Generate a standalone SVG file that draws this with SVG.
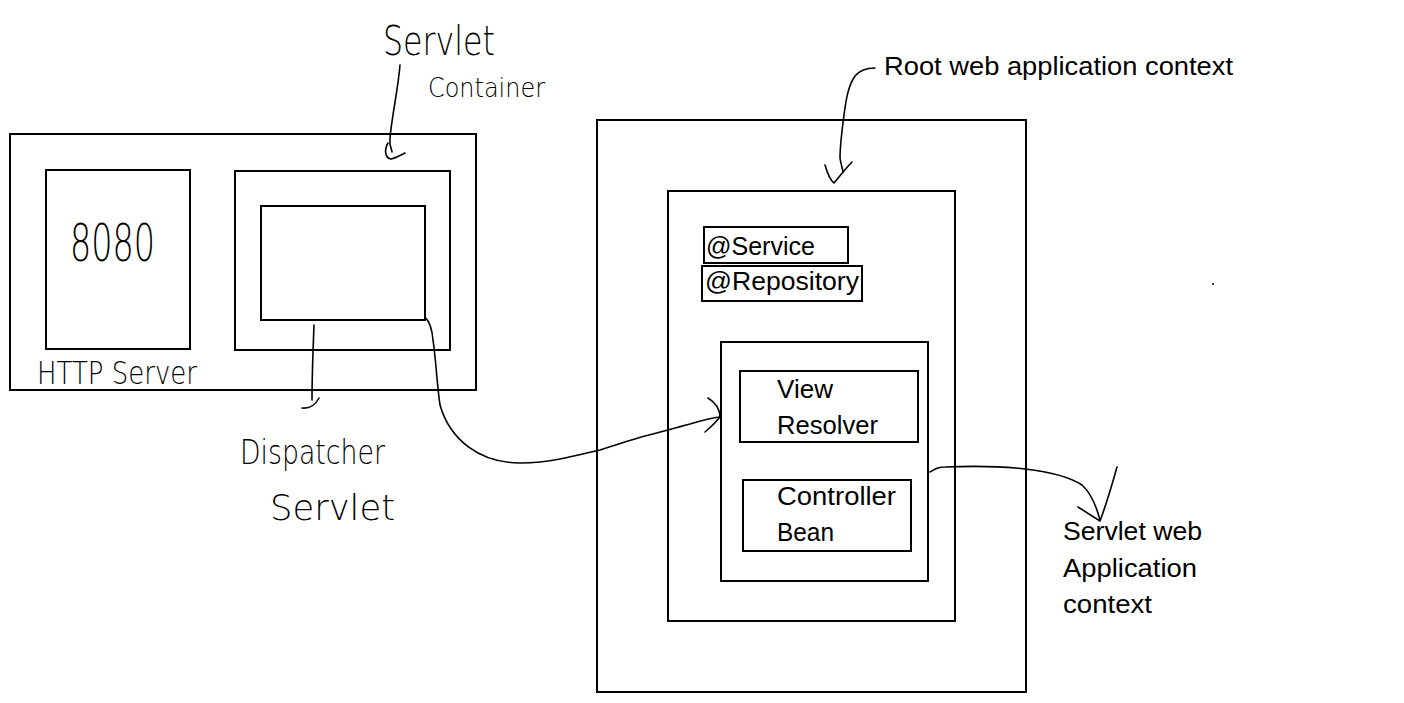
<svg xmlns="http://www.w3.org/2000/svg" width="1404" height="703" viewBox="0 0 1404 703">
<style>
.box{fill:none;stroke:#000;stroke-width:2}
.pen{fill:none;stroke:#000;stroke-width:1.6;stroke-linecap:round;stroke-linejoin:round}
.hand{font-family:"DejaVu Sans","Liberation Sans",sans-serif;font-weight:200;fill:#000}
.lbl{font-family:"Liberation Sans",Arial,sans-serif;font-size:25px;fill:#000}
</style>
<rect width="1404" height="703" fill="#fff"/>
<g id="http-server">
<rect class="box" x="10" y="134" width="466" height="256"/>
<text class="hand" x="37" y="384" font-size="32" textLength="160" lengthAdjust="spacingAndGlyphs">HTTP Server</text>
</g>
<g id="port-8080">
<rect class="box" x="46" y="170" width="144" height="179"/>
<text class="hand" x="70" y="261" font-size="52" textLength="85" lengthAdjust="spacingAndGlyphs">8080</text>
</g>
<g id="servlet-container">
<rect class="box" x="235" y="171" width="215" height="179"/>
<text class="hand" x="383" y="55" font-size="40" textLength="112" lengthAdjust="spacingAndGlyphs">Servlet</text>
<text class="hand" x="428" y="97" font-size="26" textLength="117" lengthAdjust="spacingAndGlyphs">Container</text>
</g>
<g id="dispatcher-servlet">
<rect class="box" x="261" y="206" width="164" height="114"/>
<text class="hand" x="240" y="464" font-size="34" textLength="145" lengthAdjust="spacingAndGlyphs">Dispatcher</text>
<text class="hand" x="270" y="520" font-size="36" textLength="125" lengthAdjust="spacingAndGlyphs">Servlet</text>
</g>
<g id="outer-context">
<rect class="box" x="597" y="120" width="429" height="572"/>
</g>
<g id="root-context">
<rect class="box" x="668" y="191" width="287" height="430"/>
<text class="lbl" x="884" y="75" font-size="26" textLength="349" lengthAdjust="spacingAndGlyphs">Root web application context</text>
</g>
<g id="service">
<rect class="box" x="704" y="227" width="144" height="36"/>
<text class="lbl" x="706" y="255" textLength="109" lengthAdjust="spacingAndGlyphs">@Service</text>
</g>
<g id="repository">
<rect class="box" x="702" y="266" width="160" height="35"/>
<text class="lbl" x="705" y="290" textLength="154" lengthAdjust="spacingAndGlyphs">@Repository</text>
</g>
<g id="servlet-context">
<rect class="box" x="721" y="342" width="207" height="239"/>
<text class="lbl" x="1063" y="540" textLength="139" lengthAdjust="spacingAndGlyphs">Servlet web</text>
<text class="lbl" x="1063" y="577" textLength="134" lengthAdjust="spacingAndGlyphs">Application</text>
<text class="lbl" x="1063" y="613" textLength="89" lengthAdjust="spacingAndGlyphs">context</text>
</g>
<g id="view-resolver">
<rect class="box" x="740" y="371" width="178" height="71"/>
<text class="lbl" x="777" y="398" textLength="56" lengthAdjust="spacingAndGlyphs">View</text>
<text class="lbl" x="777" y="434" textLength="101" lengthAdjust="spacingAndGlyphs">Resolver</text>
</g>
<g id="controller-bean">
<rect class="box" x="743" y="480" width="168" height="71"/>
<text class="lbl" x="777" y="505" textLength="119" lengthAdjust="spacingAndGlyphs">Controller</text>
<text class="lbl" x="777" y="541" textLength="57" lengthAdjust="spacingAndGlyphs">Bean</text>
</g>
<g id="connectors">
<path class="pen" d="M400,65 C398,90 392,115 390,138 C389,146 392,150 392,152"/>
<path class="pen" d="M388,143 C384,150 385,158 391,159 C396,158 401,155 405,153"/>
<path class="pen" d="M314,325 C313,350 312,380 312,400"/>
<path class="pen" d="M302,408 C310,409 316,404 319,398"/>
<path class="pen" d="M425,317 C430,322 432,328 433,340 C436,360 437,385 440,405 C450,440 480,463 520,463 C540,463 550,461 560,459 C580,455 590,452 600,450 C620,444 630,440 645,436 C665,431 675,428 690,424 C700,421 710,418 720,417"/>
<path class="pen" d="M708,398 C716,403 720,410 720,417 C716,422 710,428 705,432"/>
<path class="pen" d="M930,472 C935,469 938,467 945,467 C970,466 1000,466 1025,469 C1050,472 1070,477 1082,485 C1090,492 1096,505 1100,520"/>
<path class="pen" d="M1117,467 C1112,485 1106,505 1100,521 L1078,507"/>
<path class="pen" d="M875,68 C866,68 860,70 855,76 C848,86 846,100 844,115 C842,130 840,145 840,158 C841,165 843,170 843,172"/>
<path class="pen" d="M825,165 C827,172 830,180 834,183 C840,176 846,168 852,162"/>
<circle cx="1213" cy="284" r="1" fill="#000"/>
</g>
</svg>
